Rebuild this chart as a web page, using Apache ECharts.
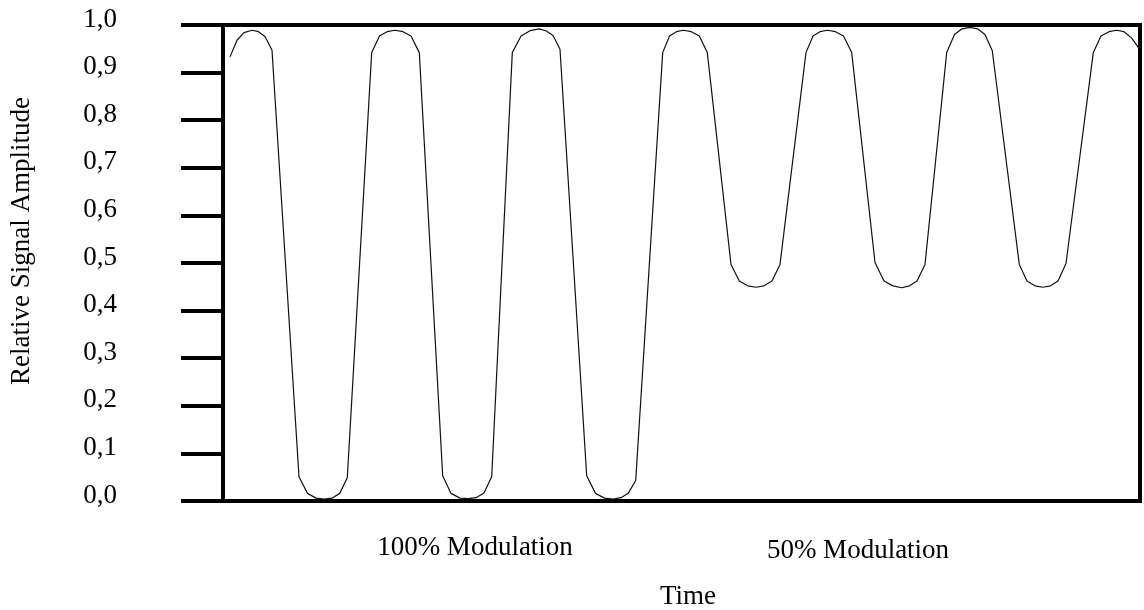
<!DOCTYPE html>
<html>
<head>
<meta charset="utf-8">
<script src="https://cdn.jsdelivr.net/npm/echarts@6/dist/echarts.min.js"></script>
<style>
html,body{margin:0;padding:0;background:#fff;}
#chart{width:1144px;height:610px;}
</style>
</head>
<body>
<div id="chart"></div>
<script>
// Time (arbitrary units)
var timeValues = [
  7, 14, 21, 29, 35.5, 42, 49,
  76, 84.5, 93, 101.3, 109, 116.7, 124.3,
  148.7, 156.5, 164, 172, 180, 188, 196.3,
  219.7, 228, 237, 245.3, 253, 261, 268.7,
  289.3, 298, 307, 316, 323, 330, 337,
  363.7, 372.5, 381.5, 390.3, 398, 405.5, 412.7,
  439.7, 446.5, 453.5, 460.3, 468.3, 476.3, 484.3,
  508, 516.3, 524.7, 533, 541, 549, 557,
  583, 590, 597, 604.3, 612.5, 620.5, 628.7,
  652, 661, 670, 678.7, 686.5, 694, 702,
  723.7, 731.5, 739, 747, 754.5, 762, 769.3,
  796.3, 804, 812, 819.7, 827.5, 835, 843,
  870.3, 878, 886, 893.7, 901, 908.5, 916
];
// Relative signal amplitude
var amplitudeValues = [
  0.933, 0.968, 0.984, 0.989, 0.986, 0.976, 0.947,
  0.051, 0.016, 0.006, 0.004, 0.006, 0.016, 0.049,
  0.942, 0.977, 0.986, 0.989, 0.986, 0.977, 0.942,
  0.053, 0.016, 0.006, 0.005, 0.007, 0.017, 0.051,
  0.942, 0.977, 0.988, 0.992, 0.988, 0.978, 0.949,
  0.053, 0.016, 0.006, 0.004, 0.007, 0.017, 0.043,
  0.942, 0.977, 0.986, 0.989, 0.986, 0.977, 0.942,
  0.497, 0.462, 0.452, 0.449, 0.452, 0.462, 0.497,
  0.942, 0.977, 0.986, 0.989, 0.986, 0.977, 0.942,
  0.501, 0.462, 0.452, 0.448, 0.452, 0.462, 0.497,
  0.942, 0.980, 0.992, 0.995, 0.992, 0.980, 0.946,
  0.497, 0.462, 0.452, 0.449, 0.452, 0.462, 0.499,
  0.942, 0.977, 0.986, 0.989, 0.986, 0.973, 0.951
];
var yTickLabels = ['0,0','0,1','0,2','0,3','0,4','0,5','0,6','0,7','0,8','0,9','1,0'];
var yAxisTitle = 'Relative Signal Amplitude';
var xAxisTitle = 'Time';
var sectionLabels = ['100% Modulation', '50% Modulation'];

var seriesData = timeValues.map(function (t, i) { return [t, amplitudeValues[i]]; });

var FONT = "'Liberation Serif', 'DejaVu Serif', serif";
var FS = 27;
var chart = echarts.init(document.getElementById('chart'), null, {renderer: 'canvas'});
chart.setOption({
  animation: false,
  backgroundColor: '#fff',
  grid: {left: 223, top: 25, width: 917, height: 476, show: true, borderColor: '#000', borderWidth: 4, containLabel: false},
  xAxis: {
    type: 'value', min: 0, max: 917,
    axisLine: {show: false}, axisTick: {show: false}, axisLabel: {show: false}, splitLine: {show: false}
  },
  yAxis: {
    type: 'value', min: 0, max: 1, interval: 0.1,
    axisLine: {show: true, lineStyle: {color: '#000', width: 4}},
    axisTick: {show: true, inside: false, length: 42, lineStyle: {color: '#000', width: 4}},
    splitLine: {show: false},
    axisLabel: {
      show: true, margin: 106, align: 'right', verticalAlign: 'middle',
      lineHeight: 11,
      fontFamily: FONT, fontSize: FS, color: '#000',
      formatter: function (v) { return yTickLabels[Math.round(v * 10)] + '\n '; }
    }
  },
  series: [{
    type: 'line', data: seriesData, showSymbol: false, smooth: false,
    lineStyle: {color: '#111', width: 1.2}, clip: true
  }],
  graphic: [
    {type: 'text', x: 22, y: 241, rotation: Math.PI / 2,
     style: {text: yAxisTitle, fontFamily: FONT, fontSize: FS, fill: '#000', align: 'center', verticalAlign: 'middle'}},
    {type: 'text', x: 475, y: 548,
     style: {text: sectionLabels[0], fontFamily: FONT, fontSize: FS, fill: '#000', align: 'center', verticalAlign: 'middle'}},
    {type: 'text', x: 858, y: 551,
     style: {text: sectionLabels[1], fontFamily: FONT, fontSize: FS, fill: '#000', align: 'center', verticalAlign: 'middle'}},
    {type: 'text', x: 688, y: 597,
     style: {text: xAxisTitle, fontFamily: FONT, fontSize: FS, fill: '#000', align: 'center', verticalAlign: 'middle'}}
  ]
});
</script>
</body>
</html>
